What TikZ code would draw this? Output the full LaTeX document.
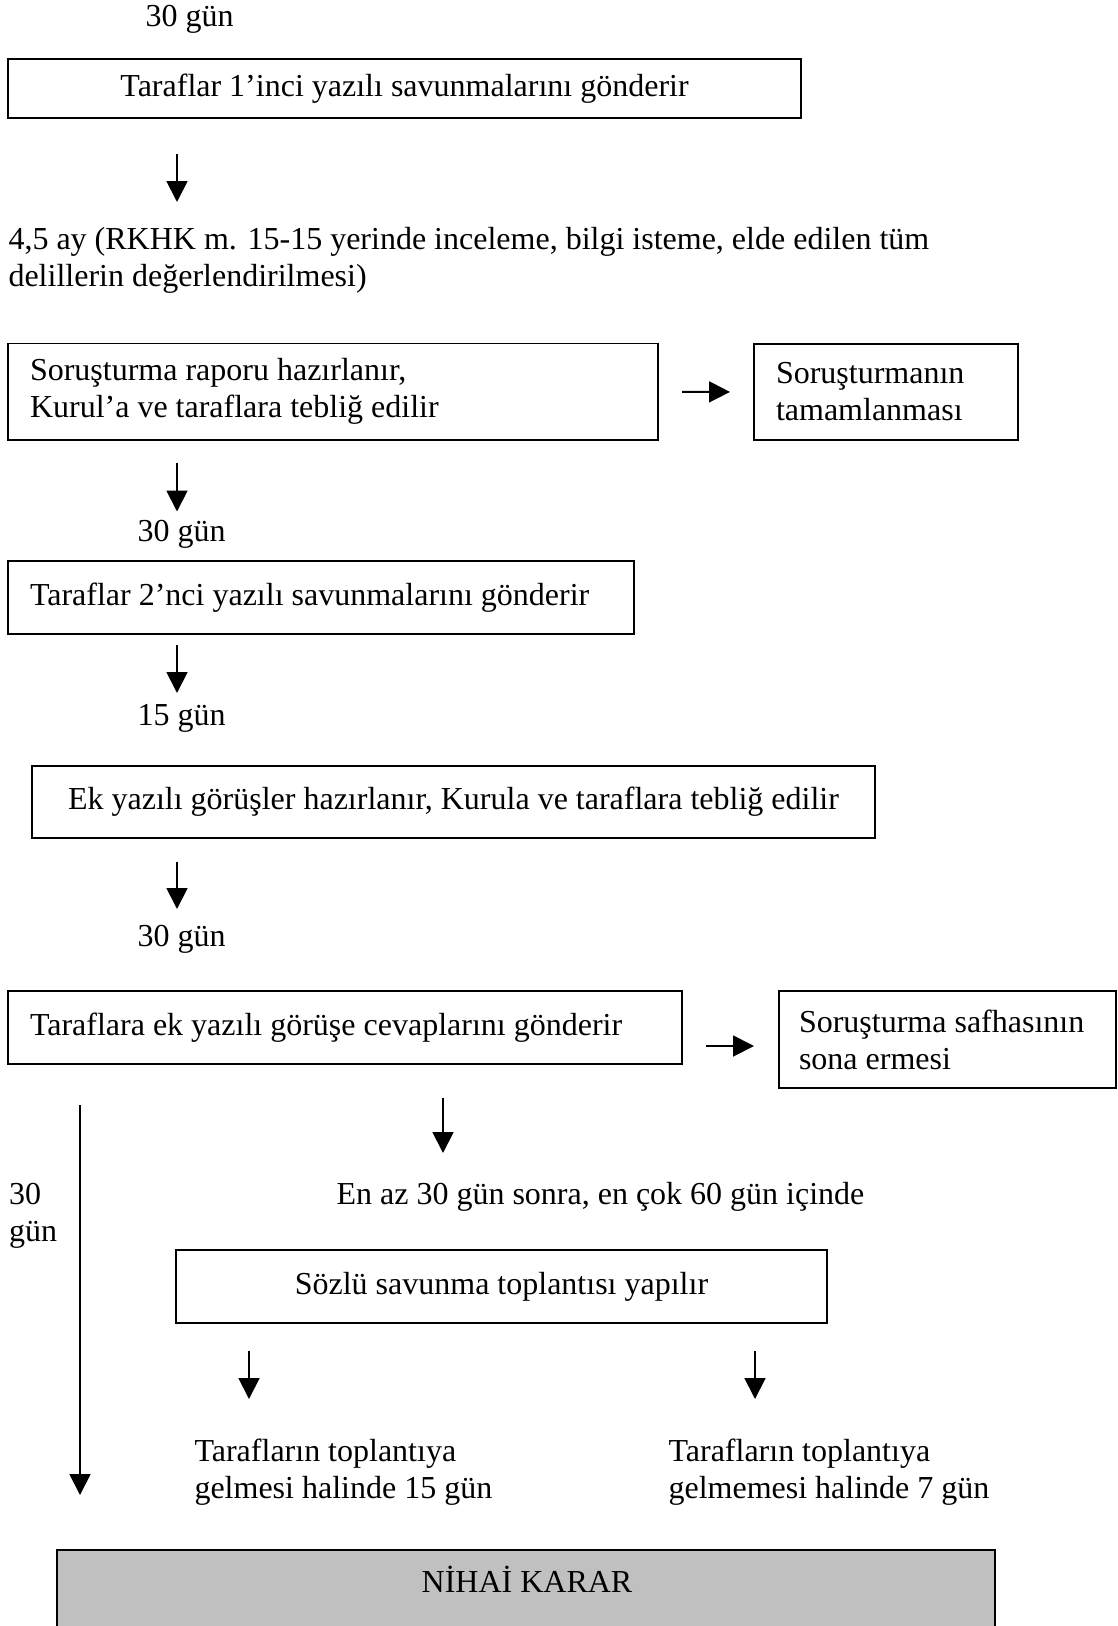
\documentclass[tikz,border=0pt]{standalone}
\usepackage{fontspec}
\setmainfont{Liberation Serif}
\usetikzlibrary{arrows.meta}

\definecolor{kararfill}{HTML}{C0C0C0}

\tikzset{
  kutu/.style={draw, line width=0.7pt, anchor=north west, inner ysep=0pt, outer sep=0pt},
  solkutu/.style={kutu, align=flush left, inner xsep=8.25pt},
  ortakutu/.style={kutu, align=center},
  yazi/.style={anchor=west, inner sep=0pt, align=flush left},
  ok/.style={line width=0.7pt, -{Triangle[width=7.8pt,length=7.8pt]}}
}

\begin{document}
\begin{tikzpicture}[x=0.375pt,y=0.375pt,yscale=-1,xscale=1,font=\fontsize{12pt}{13.9pt}\selectfont]
  \useasboundingbox (0,0) rectangle (1117,1626);

  % Text Node
  \node [yazi] (gun1) at (145,19.5) {30 gün};
  %Shape: Rectangle
  \node [ortakutu, minimum width=297.4pt, minimum height=21.9pt] (savunma1) at (8,59.3) {Taraflar 1’inci yazılı savunmalarını gönderir};
  % Text Node
  \node [yazi] (inceleme) at (8,260) {4,5 ay (RKHK m. 15-15 yerinde inceleme, bilgi isteme, elde edilen tüm\\delillerin değerlendirilmesi)};

  %Shape: Rectangle
  \node [solkutu, text width=227.25pt, minimum height=36.2pt] (rapor) at (8,343.5) {Soruşturma raporu hazırlanır,\\Kurul’a ve taraflara tebliğ edilir};
  %Shape: Rectangle
  \node [solkutu, text width=82.5pt, minimum height=36pt] (tamam) at (754,344) {Soruşturmanın\\tamamlanması};
  % Text Node
  \node [yazi] (gun2) at (137,534) {30 gün};
  %Shape: Rectangle
  \node [solkutu, text width=218.25pt, minimum height=27.4pt] (savunma2) at (8,561) {Taraflar 2’nci yazılı savunmalarını gönderir};
  % Text Node
  \node [yazi] (gun3) at (137,718) {15 gün};
  %Shape: Rectangle
  \node [ortakutu, minimum width=316.1pt, minimum height=27pt] (ekgorus) at (32,766) {Ek yazılı görüşler hazırlanır, Kurula ve taraflara tebliğ edilir};
  % Text Node
  \node [yazi] (gun4) at (137,939) {30 gün};
  %Shape: Rectangle
  \node [solkutu, text width=236.25pt, minimum height=27.4pt] (cevap) at (8,991) {Taraflara ek yazılı görüşe cevaplarını gönderir};
  %Shape: Rectangle
  \node [kutu, align=flush left, inner xsep=7.5pt, text width=111.4pt, minimum height=36.4pt] (safha) at (779,991) {Soruşturma safhasının\\sona ermesi};

  % Text Node
  \node [yazi] (gun5) at (8.6,1215.5) {30\\gün};
  % Text Node
  \node [yazi] (sure) at (336,1197) {En az 30 gün sonra, en çok 60 gün içinde};
  %Shape: Rectangle
  \node [ortakutu, minimum width=244.1pt, minimum height=27.4pt] (sozlu) at (176,1250) {Sözlü savunma toplantısı yapılır};
  % Text Node
  \node [yazi] (gelirse) at (194,1472.5) {Tarafların toplantıya\\gelmesi halinde 15 gün};
  % Text Node
  \node [yazi] (gelmezse) at (668,1472.5) {Tarafların toplantıya\\gelmemesi halinde 7 gün};

  %Shape: Rectangle
  \node [kutu, fill=kararfill, minimum width=351.75pt, minimum height=40pt] (karar) at (57,1550) {};
  % Text Node
  \node [inner sep=0pt] (karartxt) at (527,1579) {NİHAİ KARAR};

  %Straight Lines
  \coordinate (o1a) at (177,154);  \coordinate (o1b) at (177,202);
  \coordinate (o2a) at (177,463);  \coordinate (o2b) at (177,511.5);
  \coordinate (o3a) at (177,645);  \coordinate (o3b) at (177,693);
  \coordinate (o4a) at (177,861.5); \coordinate (o4b) at (177,909);
  \coordinate (o5a) at (706,1046); \coordinate (o5b) at (754,1046);
  \coordinate (o6a) at (80,1105);  \coordinate (o6b) at (80,1495);
  \coordinate (o7a) at (443,1098); \coordinate (o7b) at (443,1153);
  \coordinate (o8a) at (249,1351); \coordinate (o8b) at (249,1399);
  \coordinate (o9a) at (755,1351); \coordinate (o9b) at (755,1399);
  \draw [ok] (o1a) -- (o1b);
  \draw [ok] (o2a) -- (o2b);
  \draw [ok] (o3a) -- (o3b);
  \draw [ok] (o4a) -- (o4b);
  \draw [ok, shorten <=9pt, shorten >=9pt] (rapor.east) -- (tamam.west);
  \draw [ok] (o5a) -- (o5b);
  \draw [ok] (o6a) -- (o6b);
  \draw [ok] (o7a) -- (o7b);
  \draw [ok] (o8a) -- (o8b);
  \draw [ok] (o9a) -- (o9b);

\end{tikzpicture}
\end{document}
